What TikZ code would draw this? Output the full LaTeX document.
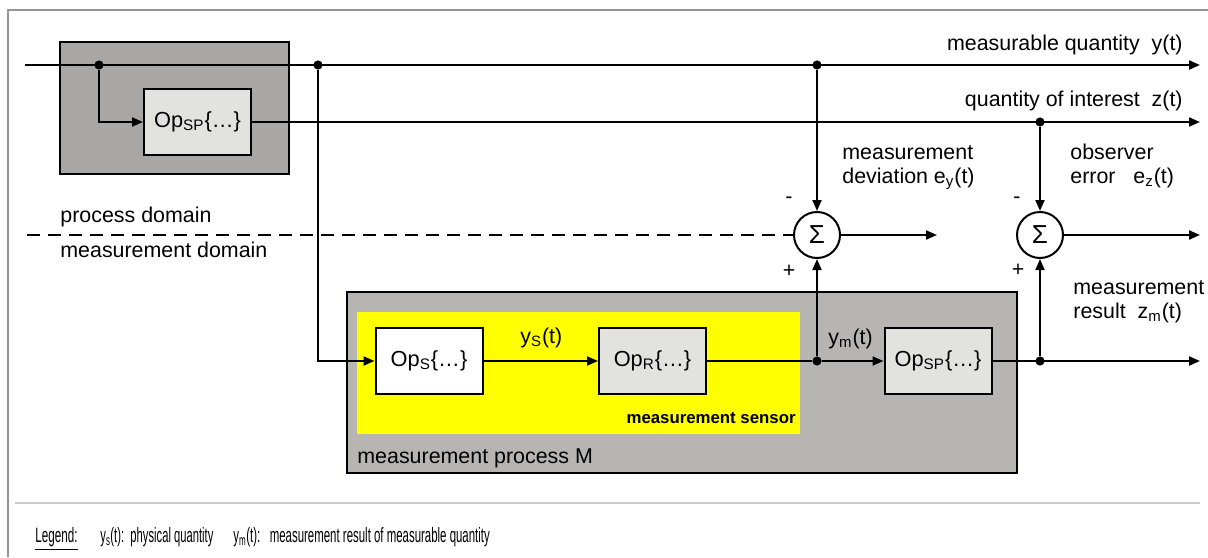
\documentclass[tikz,border=0pt]{standalone}
\usepackage{fontspec}
\setmainfont{Liberation Sans}
\usetikzlibrary{arrows.meta,positioning}
\definecolor{procgray}{RGB}{168,167,165}
\definecolor{measgray}{RGB}{182,181,178}
\definecolor{opgray}{RGB}{226,226,223}
\definecolor{framegray}{RGB}{150,150,150}
\definecolor{sensoryellow}{RGB}{255,255,0}
\tikzset{
  opbox/.style={draw, line width=1pt, minimum width=53.5pt, minimum height=33pt, inner sep=0pt,
    font=\fontsize{10.9}{12}\selectfont},
  sumnode/.style={draw, circle, line width=1pt, fill=white, minimum size=23pt, inner sep=0pt,
    font=\fontsize{13}{14}\selectfont},
  junction/.style={circle, fill=black, minimum size=4.6pt, inner sep=0pt},
  sig/.style={line width=1pt},
  sigarrow/.style={sig, -{Triangle[length=5.5pt,width=4.5pt]}},
  lbl/.style={inner sep=0pt, align=left, font=\fontsize{10.7}{12}\selectfont},
  leglbl/.style={inner sep=0pt, anchor=base west, font=\fontsize{10.4}{12}\selectfont},
}

\begin{document}
\begin{tikzpicture}[x=0.5pt, y=-0.5pt]
    \useasboundingbox (0,0) rectangle (1208,557);
    % Frame and legend separator
    \draw[framegray, line width=0.7pt] (8,557) -- (8,10) -- (1208,10);
    \draw[black!20, line width=1pt] (15,503) -- (1200,503);

    % Process and measurement domains
    \filldraw[fill=procgray, line width=1pt] (60,42) rectangle (289,174);
    \filldraw[fill=measgray, line width=1pt] (347,292) rectangle (1017,473);
    \fill[sensoryellow] (357,312) rectangle (800,434);

    % Operator blocks
    \node[opbox, fill=opgray] (opsp) at (197.5,122) {Op\textsubscript{SP}\{…\}};
    \node[opbox, fill=white] (ops) at (429,361) {Op\textsubscript{S}\{…\}};
    \node[opbox, fill=opgray] (opr) at (652.5,361) {Op\textsubscript{R}\{…\}};
    \node[opbox, fill=opgray] (opspm) at (938,361) {Op\textsubscript{SP}\{…\}};

    % Summing points
    \node[sumnode] (sumy) at (817,235) {Σ};
    \node[sumnode] (sumz) at (1040,235) {Σ};

    % Branch points and free ends
    \node[junction] (jin) at (99,65) {};
    \node[junction] (jmeas) at (318,65) {};
    \node[junction] (jy) at (817,65) {};
    \node[junction] (jz) at (1040,122) {};
    \node[junction] (jym) at (817,361) {};
    \node[junction] (jzm) at (1040,361) {};
    \coordinate (yin) at (25,65);
    \coordinate (yout) at (1200,65);
    \coordinate (zout) at (1200,122);
    \coordinate (eyout) at (937,235);
    \coordinate (ezout) at (1200,235);
    \coordinate (zmout) at (1200,361);
    \coordinate (domainline) at (27,235);

    % Signal lines
    \draw[sigarrow] (yin) -- (yout);
    \draw[sigarrow] (jin) |- (opsp);
    \draw[sigarrow] (opsp) -- (zout);
    \draw[sigarrow] (jmeas) |- (ops);
    \draw[sigarrow] (jy) -- (sumy);
    \draw[sigarrow] (jz) -- (sumz);
    \draw[sigarrow] (ops) -- (opr);
    \draw[sig] (opr) -- (jym);
    \draw[sigarrow] (jym) -- (opspm);
    \draw[sigarrow] (jym) -- (sumy);
    \draw[sigarrow] (opspm) -- (zmout);
    \draw[sigarrow] (jzm) -- (sumz);
    \draw[sigarrow] (sumy) -- (eyout);
    \draw[sigarrow] (sumz) -- (ezout);
    \draw[sig, dash pattern=on 6.5pt off 4pt] (domainline) -- (sumy);

    % Labels
    \node[lbl, anchor=base east] (ylbl) at (1183,50) {measurable quantity\ \ y(t)};
    \node[lbl, anchor=base east] (zlbl) at (1183,106) {quantity of interest\ \ z(t)};
    \node[lbl, anchor=base west] (eylbl) at (842,183) {measurement\\deviation e\textsubscript{y}(t)};
    \node[lbl, anchor=base west] (ezlbl) at (1070,183) {observer\\error\ \ \ e\textsubscript{z}(t)};
    \node[lbl, anchor=base west] (zmlbl) at (1073,318) {measurement\\result\ \ z\textsubscript{m}(t)};
    \node[lbl, anchor=base west] (pdom) at (60,222) {process domain};
    \node[lbl, anchor=base west] (mdom) at (60,257) {measurement domain};
    \node[lbl, anchor=base west] (yslbl) at (520,343) {y\textsubscript{S}(t)};
    \node[lbl, anchor=base west] (ymlbl) at (828,344) {y\textsubscript{m}(t)};
    \node[lbl, anchor=base west] (mproc) at (357,463) {measurement process M};
    \node[lbl, anchor=base east, font=\bfseries\fontsize{8.4}{10}\selectfont] (msens) at (796,423) {measurement sensor};
    \node[lbl] (minusy) at (789,200) {-};
    \node[lbl] (plusy) at (789,271) {+};
    \node[lbl] (minusz) at (1017,200) {-};
    \node[lbl] (plusz) at (1018,270) {+};

    % Legend
    \node[leglbl] (legtitle) at (35,542) {\scalebox{0.56}[1]{\underline{Legend:}}};
    \node[leglbl] (legys) at (100,542) {\scalebox{0.54}[1]{y\textsubscript{s}(t):\ \ physical quantity}};
    \node[leglbl] (legym) at (233,542)
        {\scalebox{0.55}[1]{y\textsubscript{m}(t):\ \ \ measurement result of measurable quantity}};
\end{tikzpicture}
\end{document}
